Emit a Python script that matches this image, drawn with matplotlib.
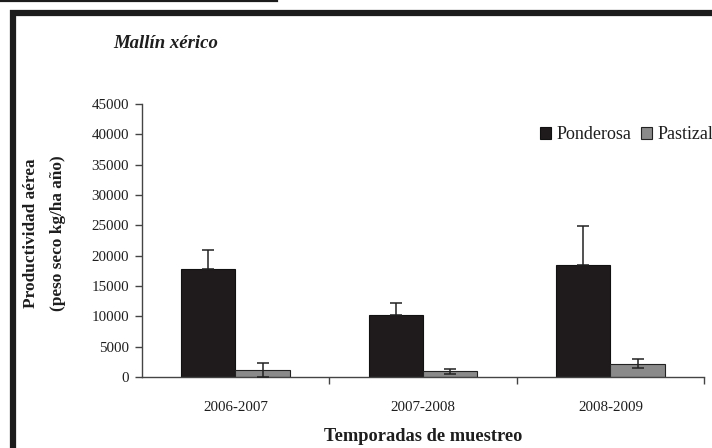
import matplotlib
matplotlib.use("Agg")
import matplotlib.pyplot as plt
from matplotlib.lines import Line2D
import numpy as np

# productividad aérea por temporada (kg/ha año)
temporadas = ["2006-2007", "2007-2008", "2008-2009"]
ponderosa = [17850, 10200, 18400]
ponderosa_err = [3100, 2100, 6450]
pastizal = [1200, 1000, 2200]
pastizal_err = [1150, 400, 750]

plt.rcParams['font.family'] = ['Liberation Serif', 'DejaVu Serif']
texto = '#1e1e1e'

fig = plt.figure(figsize=(7.12, 4.48), dpi=100)
ax = fig.add_axes([0.199, 0.158, 0.790, 0.610])

x = np.arange(len(temporadas))
w = 0.29
ax.bar(x - w / 2, ponderosa, w, color='#1f1b1c', edgecolor='#111111', linewidth=0.8,
       label="Ponderosa", zorder=2)
ax.bar(x + w / 2, pastizal, w, color='#8a8a8a', edgecolor='#222222', linewidth=0.8,
       label="Pastizal", zorder=2)
# en las barras negras solo se ve la mitad superior del error
ax.errorbar(x - w / 2, ponderosa, yerr=[np.zeros(len(ponderosa)), ponderosa_err],
            fmt='none', ecolor='#222222', elinewidth=1.1, capsize=4, capthick=1.1, zorder=3)
ax.errorbar(x + w / 2, pastizal, yerr=pastizal_err, fmt='none', ecolor='#222222',
            elinewidth=1.1, capsize=4, capthick=1.1, zorder=3)

ax.set_xlim(-0.5, 2.5)
ax.set_ylim(0, 45000)
ax.set_yticks(np.arange(0, 45001, 5000))
ax.set_xticks(x)
ax.set_xticklabels(temporadas)
ax.set_xticks([0.5, 1.5, 2.5], minor=True)
ax.tick_params(axis='x', which='major', length=0, pad=17, labelsize=10.8, labelcolor=texto)
ax.tick_params(axis='x', which='minor', length=5, width=1, color='#444444', direction='out')
ax.tick_params(axis='y', length=5, width=1, color='#444444', pad=4, labelsize=10.8,
               labelcolor=texto)

for s in ['top', 'right']:
    ax.spines[s].set_visible(False)
for s in ['left', 'bottom']:
    ax.spines[s].set_color('#444444')
    ax.spines[s].set_linewidth(1.0)

ax.set_xlabel("Temporadas de muestreo", fontsize=13.2, fontweight='bold', color=texto,
              labelpad=10)

fig.text(0.043, 0.48, "Productividad aérea", rotation=90, ha='center', va='center',
         fontsize=12.4, fontweight='bold', color=texto)
fig.text(0.081, 0.48, "(peso seco kg/ha año)", rotation=90, ha='center', va='center',
         fontsize=12.4, fontweight='bold', color=texto)

fig.text(0.159, 0.904, "Mallín xérico", fontsize=13.5, fontweight='bold', style='italic',
         ha='left', va='center', color=texto)

ax.legend(loc='center left', bbox_to_anchor=(0.758, 0.699), bbox_transform=fig.transFigure,
          ncol=2, frameon=False, fontsize=13, handlelength=0.65, handleheight=0.65,
          handletextpad=0.3, columnspacing=0.5, borderpad=0, borderaxespad=0,
          labelcolor=texto)

# marco del panel
fig.add_artist(Line2D([12.5 / 712, 12.5 / 712, 1.01], [-0.01, 1 - 12.8 / 448, 1 - 12.8 / 448],
                      transform=fig.transFigure, color='#1c1c1c', linewidth=4.5,
                      solid_joinstyle='miter'))
fig.add_artist(Line2D([0, 277 / 712], [1 - 1.2 / 448, 1 - 1.2 / 448],
                      transform=fig.transFigure, color='#1c1c1c', linewidth=1.6))

fig.savefig("out.png", dpi=100)
